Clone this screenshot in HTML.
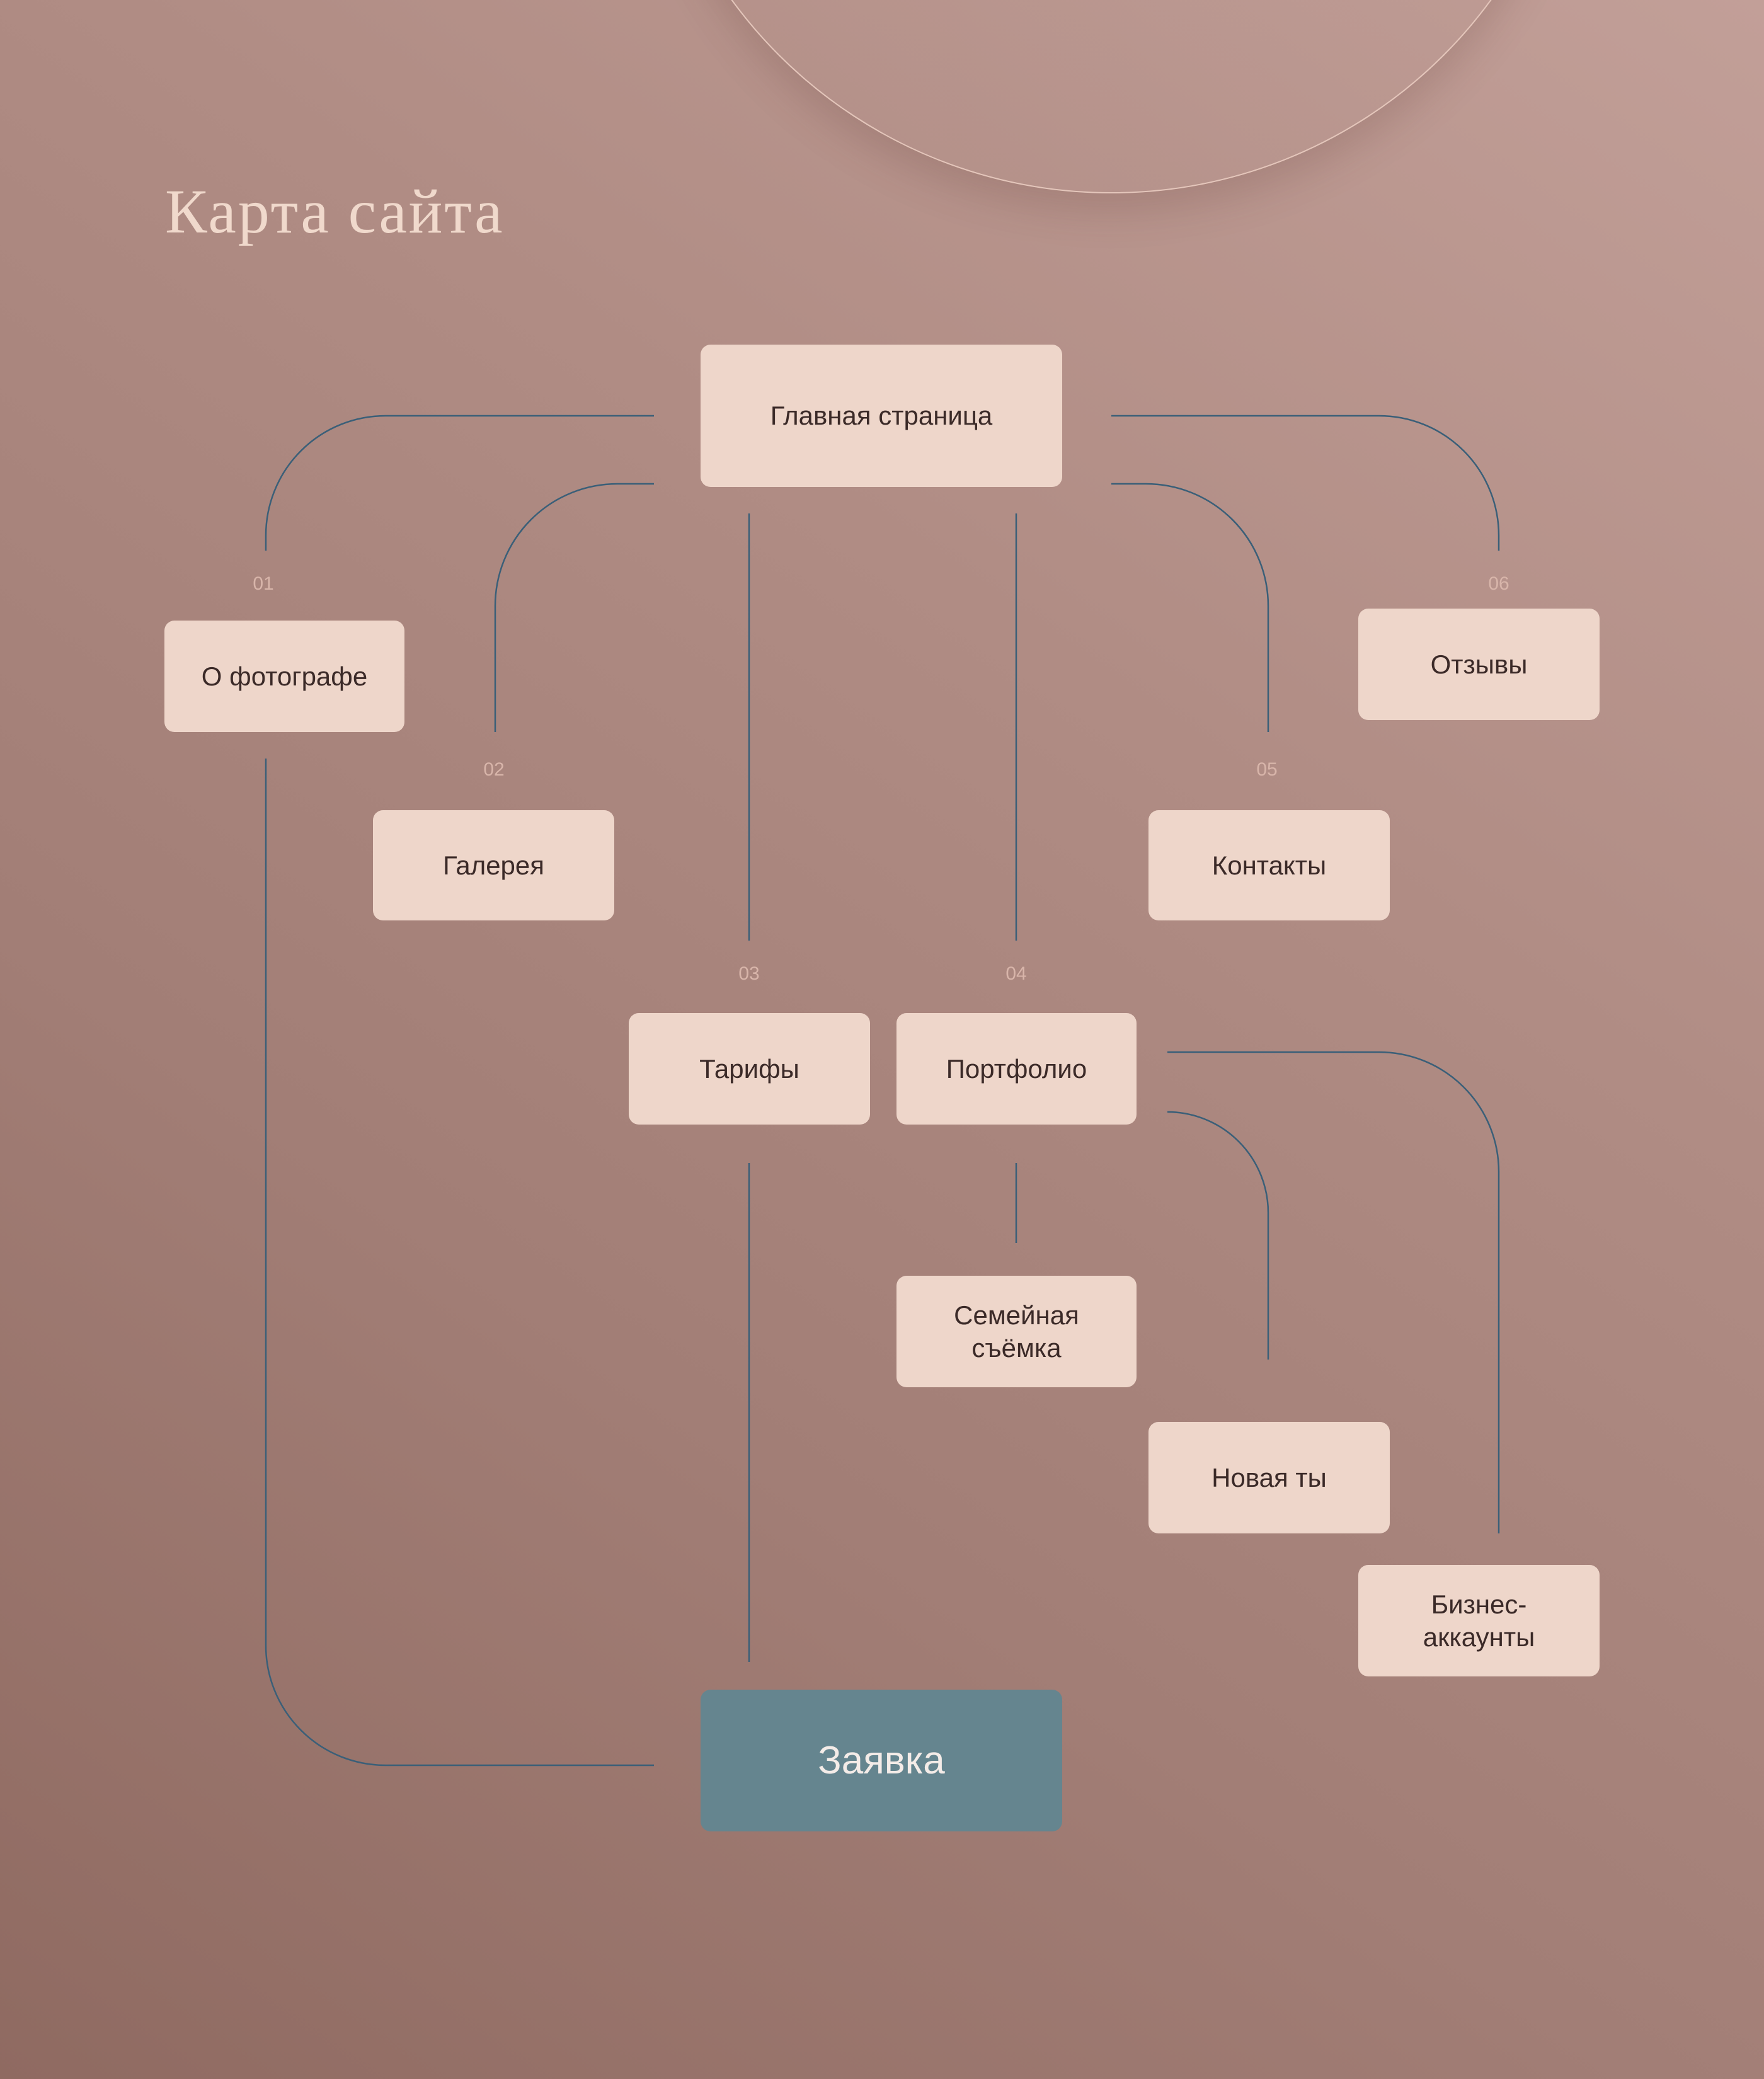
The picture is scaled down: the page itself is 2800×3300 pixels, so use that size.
<!DOCTYPE html>
<html><head><meta charset="utf-8"><style>
html,body{margin:0;padding:0}
body{width:2800px;height:3300px;position:relative;overflow:hidden;
background:linear-gradient(215deg,#c29f98 0%,#b08c84 35%,#a27e76 65%,#8f6a61 100%);
font-family:"Liberation Sans","DejaVu Sans",sans-serif}
.circle{position:absolute;left:1017px;top:-1187px;width:1494px;height:1494px;border-radius:50%;
border:2px solid #e4c6bb;box-sizing:border-box;box-shadow:0 30px 60px rgba(90,50,45,0.18);
background:linear-gradient(200deg,rgba(200,165,158,0.3),rgba(170,135,128,0.2))}
.title{position:absolute;left:262px;top:278px;font-family:"Liberation Serif","DejaVu Serif",serif;
font-size:100px;color:#f0d9cc;font-weight:normal;letter-spacing:3px}
.box{position:absolute;background:#eed6ca;border-radius:16px;display:flex;align-items:center;justify-content:center;
text-align:center;color:#3b2a28;font-size:42px;line-height:52px}
.num{position:absolute;color:#d8b5aa;font-size:30px;transform:translateX(-50%)}
svg{position:absolute;left:0;top:0}
</style></head><body>
<div class="circle"></div>
<div class="title">Карта сайта</div>
<svg width="2800" height="3300" fill="none" stroke="#3a5f78" stroke-width="2.5">
<path d="M1038 660 H612 A190 190 0 0 0 422 850 V874"/>
<path d="M1038 768 H980 A194 194 0 0 0 786 962 V1162"/>
<path d="M1189 815 V1493"/>
<path d="M1613 815 V1493"/>
<path d="M1764 768 H1819 A194 194 0 0 1 2013 962 V1162"/>
<path d="M1764 660 H2189 A190 190 0 0 1 2379 850 V874"/>
<path d="M422 1204 V2612 A190 190 0 0 0 612 2802 H1038"/>
<path d="M1189 1846 V2638"/>
<path d="M1613 1846 V1973"/>
<path d="M1853 1765 A160 160 0 0 1 2013 1925 V2158"/>
<path d="M1853 1670 H2189 A190 190 0 0 1 2379 1860 V2434"/>
</svg>
<div class="num" style="left:418px;top:910px">01</div>
<div class="num" style="left:784px;top:1205px">02</div>
<div class="num" style="left:1189px;top:1529px">03</div>
<div class="num" style="left:1613px;top:1529px">04</div>
<div class="num" style="left:2011px;top:1205px">05</div>
<div class="num" style="left:2379px;top:910px">06</div>
<div class="box" style="left:1112px;top:547px;width:574px;height:226px">Главная страница</div>
<div class="box" style="left:261px;top:985px;width:381px;height:177px">О фотографе</div>
<div class="box" style="left:2156px;top:966px;width:383px;height:177px">Отзывы</div>
<div class="box" style="left:592px;top:1286px;width:383px;height:175px">Галерея</div>
<div class="box" style="left:1823px;top:1286px;width:383px;height:175px">Контакты</div>
<div class="box" style="left:998px;top:1608px;width:383px;height:177px">Тарифы</div>
<div class="box" style="left:1423px;top:1608px;width:381px;height:177px">Портфолио</div>
<div class="box" style="left:1423px;top:2025px;width:381px;height:177px">Семейная<br>съёмка</div>
<div class="box" style="left:1823px;top:2257px;width:383px;height:177px">Новая ты</div>
<div class="box" style="left:2156px;top:2484px;width:383px;height:177px">Бизнес-<br>аккаунты</div>
<div class="box" style="left:1112px;top:2682px;width:574px;height:225px;background:#65858f;color:#f4ece8;font-size:62px">Заявка</div>
</body></html>
